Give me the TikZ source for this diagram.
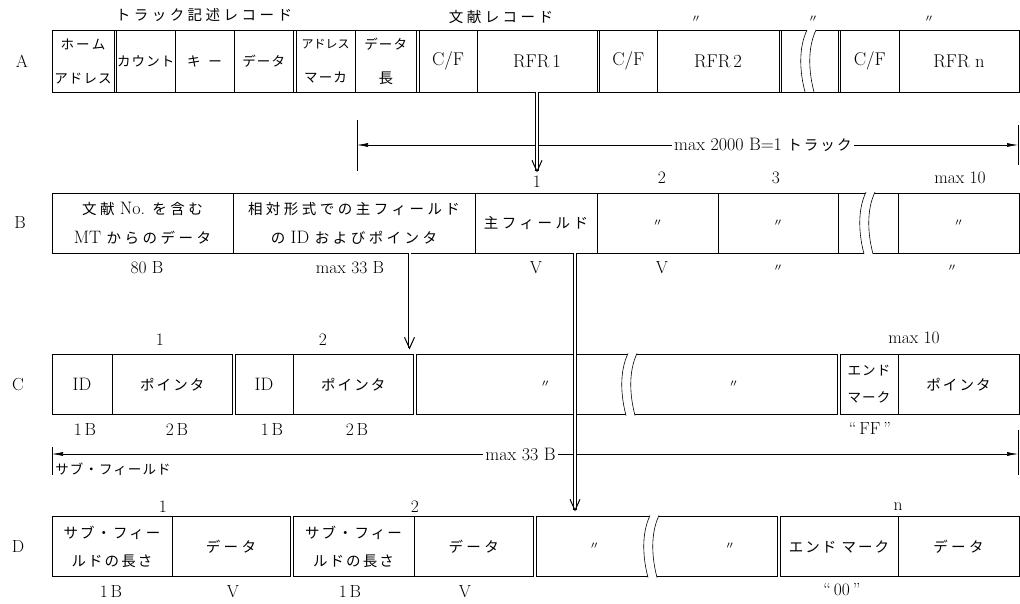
\documentclass[tikz,border=0pt]{standalone}
\usepackage{fontspec}
\usepackage{tikz}
\usetikzlibrary{positioning, arrows.meta, calc}
\newfontfamily\jpfontw[LetterSpace=24]{Noto Sans CJK JP}
\newfontfamily\jpfontm[LetterSpace=14]{Noto Sans CJK JP}
\newfontfamily\jpfonts[LetterSpace=8]{Noto Sans CJK JP}
\newfontfamily\jpfontn{Noto Sans CJK JP}
\newcommand{\jw}[1]{{\jpfontw\fontsize{14.5}{20}\selectfont #1}}
\newcommand{\jm}[1]{{\jpfontm\fontsize{14.5}{20}\selectfont #1}}
\newcommand{\js}[1]{{\jpfonts\fontsize{13.5}{16}\selectfont #1}}
\newcommand{\jn}[1]{{\jpfontn\fontsize{12}{16}\selectfont #1}}
\newcommand{\ditto}{{\jpfontn\fontsize{10.5}{12}\selectfont 〃}}

\begin{document}
\begin{tikzpicture}[x=1pt, y=-1pt,
  cell/.style={draw, line width=0.6pt, outer sep=0pt, inner sep=0pt,
    minimum height=60pt, align=center, font=\fontsize{18}{29}\selectfont},
  rowA/.style={cell, minimum height=62pt, font=\fontsize{18.5}{34}\selectfont},
  lbl/.style={inner sep=0.5pt, font=\fontsize{17.5}{18}\selectfont},
  rowlbl/.style={lbl, font=\fontsize{17.5}{18}\selectfont},
  frame/.style={line width=0.6pt},
  dblarrow/.style={double, double distance=2pt, line width=0.6pt,
    -{Straight Barb[length=11pt, width=10pt, line width=1pt]}},
  dimline/.style={line width=0.55pt,
    {Latex[length=11pt, width=4pt]}-{Latex[length=11pt, width=4pt]}},
  tick/.style={line width=0.55pt},
  brk/.pic={
    \fill[white] (-2,-31) .. controls (-11,-12) and (-9,12) .. (-4,31)
      -- (5,31) .. controls (0,12) and (-2,-12) .. (7,-31) -- cycle;
    \draw[line width=0.6pt] (-2,-31) .. controls (-11,-12) and (-9,12) .. (-4,31);
    \draw[line width=0.6pt] (7,-31) .. controls (-2,-12) and (0,12) .. (5,31);
  }
]
\useasboundingbox (0,0) rectangle (1020,604);

% Row A: track record
\node[rowlbl] (rA) at (22,61) {A};
\node[rowA, minimum width=62pt, anchor=west] (a1) at (52,61) {\js{ホ\,ー\,ム}\\\js{アドレス}};
\node[rowA, minimum width=58.5pt, right=2.5pt of a1] (a2) {\js{カウント}};
\node[rowA, minimum width=59pt, right=0pt of a2] (a3) {\js{キ\hspace{8pt}ー}};
\node[rowA, minimum width=59.5pt, right=0pt of a3] (a4) {\js{データ}};
\node[rowA, minimum width=59pt, right=2.5pt of a4] (a5) {\jn{アドレス}\\\js{マーカ}};
\node[rowA, minimum width=61.5pt, right=0pt of a5] (a6) {\js{データ}\\\jw{長}};
\node[rowA, minimum width=58pt, right=2.5pt of a6] (a7) {C/F};
\node[rowA, minimum width=120pt, right=0pt of a7] (a8) {RFR\,1};
\node[rowA, minimum width=57.5pt, right=2.5pt of a8] (a9) {C/F};
\node[rowA, minimum width=122pt, right=0pt of a9] (a10) {RFR\,2};
\node[rowA, minimum width=27.5pt, right=2.5pt of a10] (a11) {};
\node[rowA, minimum width=29pt, right=0pt of a11] (a12) {};
\node[rowA, minimum width=58.5pt, right=2.5pt of a12] (a13) {C/F};
\node[rowA, minimum width=120pt, right=0pt of a13] (a14) {RFR n};
\draw[frame] (a1.north west) rectangle (a14.south east);
\pic at (a11.east) {brk};
\node[lbl] (tA1) at (204,15) {\jw{トラック記述レコード}};
\node[lbl] (tA2) at (501,17) {\jw{文献レコード}};
\node[lbl] (tA3) at (696,19) {\ditto};
\node[lbl] (tA4) at (813,19) {\ditto};
\node[lbl] (tA5) at (929,19) {\ditto};

% track length
\coordinate (dA1) at (357,145);
\coordinate (dA2) at (1018,145);
\draw[tick] ([yshift=25pt]dA1) -- ([yshift=-26pt]dA1);
\draw[tick] ([yshift=20pt]dA2) -- ([yshift=-20pt]dA2);
\draw[dimline] (dA1) -- node[pos=0.614, fill=white, inner sep=2pt,
  font=\fontsize{18}{18}\selectfont] (dAt) {max 2000 B=1 \jm{トラック}} (dA2);

% Row B: reference record
\node[rowlbl] (rB) at (20,223) {B};
\node[cell, minimum width=181pt, anchor=west] (b1) at (52,223) {\jw{文献} No. \jw{を含む}\\MT \jw{からのデータ}};
\node[cell, minimum width=242pt, right=0pt of b1] (b2) {\jw{相対形式での主フィールド}\\\jw{の} ID \jw{およびポインタ}};
\node[cell, minimum width=122pt, right=0pt of b2] (b3) {\jw{主フィールド}};
\node[cell, minimum width=121pt, right=0pt of b3] (b4) {\ditto};
\node[cell, minimum width=120pt, right=0pt of b4] (b5) {\ditto};
\node[cell, minimum width=30pt, right=0pt of b5] (b6) {};
\node[cell, minimum width=30pt, right=0pt of b6] (b7) {};
\node[cell, minimum width=121pt, right=0pt of b7] (b8) {\ditto};
\pic at (b6.east) {brk};
\node[lbl] (nB1) at (537,182) {1};
\node[lbl] (nB2) at (662,178) {2};
\node[lbl] (nB3) at (776,178) {3};
\node[lbl] (nB4) at (960,178) {max 10};
\node[lbl] (sB1) at (147,268) {80 B};
\node[lbl] (sB2) at (350,268) {max 33 B};
\node[lbl] (sB3) at (536,268) {V};
\node[lbl] (sB4) at (662,268) {V};
\node[lbl] (sB5) at (778,268) {\ditto};
\node[lbl] (sB6) at (952,268) {\ditto};
\draw[dblarrow, shorten >=3pt] (a8.south) -- (nB1.north);

% Row C: ID / pointer list
\node[rowlbl] (rC) at (18,384.5) {C};
\node[cell, minimum width=60pt, anchor=west] (c1) at (52,384.5) {ID};
\node[cell, minimum width=120.5pt, right=0pt of c1] (c2) {\jm{ポインタ}};
\node[cell, minimum width=58pt, right=2.5pt of c2] (c3) {ID};
\node[cell, minimum width=120.5pt, right=0pt of c3] (c4) {\jm{ポインタ}};
\node[cell, minimum width=213.5pt, right=3pt of c4] (c5) {\hspace{44pt}\ditto};
\node[cell, minimum width=207pt, right=0pt of c5] (c6) {\ditto};
\node[cell, minimum width=58pt, right=3pt of c6, font=\fontsize{17}{27}\selectfont] (c7) {\js{エンド}\\\js{マーク}};
\node[cell, minimum width=121pt, right=0pt of c7] (c8) {\jm{ポインタ}};
\pic at (c5.east) {brk};
\node[lbl] (nC1) at (160,340) {1};
\node[lbl] (nC2) at (323,340) {2};
\node[lbl] (nC3) at (914,338) {max 10};
\node[lbl] (sC1) at (85,430) {1\,B};
\node[lbl] (sC2) at (177,430) {2\,B};
\node[lbl] (sC3) at (272,430) {1\,B};
\node[lbl] (sC4) at (357,430) {2\,B};
\node[lbl] (sC5) at (870,428) {“\,FF\,”};
\coordinate (pB) at ($(c4.north east)+(-4,-5)$);
\draw[dblarrow] (b2.south -| pB) -- (pB);

% list length
\coordinate (dC1) at (52,454);
\coordinate (dC2) at (1018,454);
\draw[tick] ([yshift=7pt]dC1) -- ([yshift=-21pt]dC1);
\draw[tick] ([yshift=24pt]dC2) -- ([yshift=-21pt]dC2);
\draw[dimline] (dC1) -- node[pos=0.485, fill=white, inner sep=2pt,
  font=\fontsize{18}{18}\selectfont] (dCt) {max 33 B} (dC2);

% Row D: main field
\node[rowlbl] (rD) at (18,546.5) {D};
\node[cell, minimum width=120pt, anchor=west, font=\fontsize{17}{28}\selectfont] (d1) at (52,546.5) {\jm{サブ・フィー}\\\jm{ルドの長さ}};
\node[cell, minimum width=118pt, right=0pt of d1] (d2) {\jw{データ}};
\node[cell, minimum width=121pt, right=3pt of d2, font=\fontsize{17}{28}\selectfont] (d3) {\jm{サブ・フィー}\\\jm{ルドの長さ}};
\node[cell, minimum width=119.5pt, right=0pt of d3] (d4) {\jw{データ}};
\node[cell, minimum width=115.5pt, right=3pt of d4] (d5) {\ditto};
\node[cell, minimum width=125.5pt, right=0pt of d5] (d6) {\hspace{30pt}\ditto};
\node[cell, minimum width=118pt, right=2.5pt of d6] (d7) {\jm{エンド マーク}};
\node[cell, minimum width=121pt, right=0pt of d7] (d8) {\jw{データ}};
\pic at (d5.east) {brk};
\node[lbl] (tD1) at (113,469) {\js{サブ・フィールド}};
\node[lbl] (nD1) at (163,507) {1};
\node[lbl] (nD2) at (415,507) {2};
\node[lbl] (nD3) at (898,507) {n};
\node[lbl] (sD1) at (111,592) {1\,B};
\node[lbl] (sD2) at (233,592) {V};
\node[lbl] (sD3) at (350,592) {1\,B};
\node[lbl] (sD4) at (465,592) {V};
\node[lbl] (sD5) at (842,590) {“\,00\,”};
\coordinate (pD) at ($(b3.south east)+(-22,0)$);
\draw[dblarrow, shorten >=5pt] (pD) -- (pD |- d5.north);
\end{tikzpicture}
\end{document}
